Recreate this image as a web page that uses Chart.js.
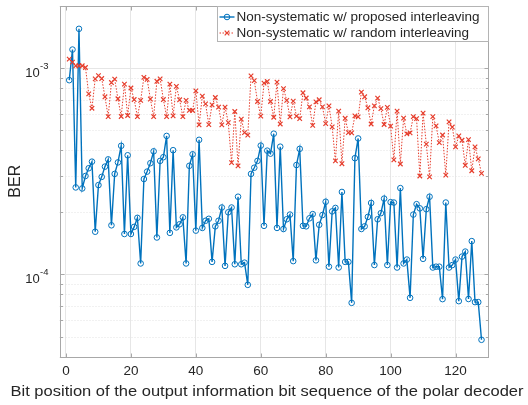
<!DOCTYPE html>
<html>
<head>
<meta charset="utf-8">
<script src="https://cdn.jsdelivr.net/npm/chart.js@4.4.1/dist/chart.umd.min.js"></script>
<style>
html,body{margin:0;padding:0;background:#ffffff;}
canvas{display:block;}
</style>
</head>
<body>
<canvas id="chart" width="528" height="405"></canvas>
<script>
// ---------------- data ----------------
const bitPosition = [1,2,3,4,5,6,7,8,9,10,11,12,13,14,15,16,17,18,19,20,21,22,23,24,25,26,27,28,29,30,31,32,
  33,34,35,36,37,38,39,40,41,42,43,44,45,46,47,48,49,50,51,52,53,54,55,56,57,58,59,60,61,62,63,64,
  65,66,67,68,69,70,71,72,73,74,75,76,77,78,79,80,81,82,83,84,85,86,87,88,89,90,91,92,93,94,95,96,
  97,98,99,100,101,102,103,104,105,106,107,108,109,110,111,112,113,114,115,116,117,118,119,120,121,122,123,124,125,126,127,128];

const berProposed = [
  8.74e-4,1.23e-3,2.64e-4,1.55e-3,2.61e-4,3.00e-4,3.27e-4,3.52e-4,1.61e-4,2.71e-4,
  2.97e-4,3.33e-4,3.61e-4,1.73e-4,3.07e-4,3.49e-4,4.20e-4,1.57e-4,3.78e-4,1.57e-4,
  1.70e-4,1.88e-4,1.13e-4,2.90e-4,3.15e-4,3.46e-4,3.95e-4,1.51e-4,3.55e-4,3.70e-4,
  4.69e-4,1.59e-4,4.00e-4,1.69e-4,1.75e-4,1.89e-4,1.13e-4,3.36e-4,3.82e-4,1.63e-4,
  4.49e-4,1.68e-4,1.82e-4,1.86e-4,1.15e-4,1.71e-4,1.82e-4,2.11e-4,1.10e-4,2.00e-4,
  2.11e-4,1.12e-4,2.38e-4,1.12e-4,1.14e-4,8.90e-5,3.07e-4,3.29e-4,3.55e-4,4.21e-4,
  1.72e-4,3.98e-4,3.85e-4,4.81e-4,1.68e-4,4.16e-4,1.66e-4,1.85e-4,1.95e-4,1.16e-4,
  3.39e-4,4.06e-4,1.72e-4,1.71e-4,1.87e-4,1.96e-4,1.17e-4,1.74e-4,1.94e-4,2.25e-4,
  1.09e-4,2.02e-4,2.10e-4,1.08e-4,2.51e-4,1.15e-4,1.15e-4,7.28e-5,3.66e-4,4.56e-4,
  1.66e-4,1.71e-4,1.90e-4,2.22e-4,1.11e-4,1.85e-4,1.98e-4,2.33e-4,1.11e-4,2.24e-4,
  2.23e-4,1.08e-4,2.62e-4,1.13e-4,1.18e-4,7.70e-5,1.95e-4,2.19e-4,2.09e-4,1.19e-4,
  2.07e-4,2.38e-4,1.08e-4,1.09e-4,1.09e-4,7.59e-5,2.23e-4,1.08e-4,1.11e-4,1.18e-4,
  7.42e-5,1.22e-4,1.29e-4,7.60e-5,1.45e-4,7.34e-5,7.34e-5,4.82e-5];

const berRandom = [
  1.106e-3,1.069e-3,1.026e-3,1.026e-3,1.026e-3,1.007e-3,7.50e-4,6.39e-4,8.87e-4,9.19e-4,
  8.90e-4,7.26e-4,5.82e-4,8.51e-4,8.84e-4,7.10e-4,5.83e-4,8.36e-4,5.89e-4,8.01e-4,
  7.04e-4,5.82e-4,6.98e-4,9.02e-4,8.82e-4,7.08e-4,5.82e-4,8.63e-4,8.87e-4,7.04e-4,
  5.82e-4,8.36e-4,5.87e-4,8.16e-4,7.02e-4,5.82e-4,6.98e-4,6.24e-4,6.23e-4,7.76e-4,
  5.31e-4,7.31e-4,6.71e-4,5.32e-4,6.63e-4,7.20e-4,6.47e-4,5.31e-4,6.47e-4,5.44e-4,
  3.48e-4,6.16e-4,3.36e-4,5.66e-4,4.87e-4,4.73e-4,9.17e-4,8.70e-4,6.89e-4,5.85e-4,
  8.46e-4,8.61e-4,6.89e-4,5.78e-4,8.55e-4,5.36e-4,7.95e-4,6.98e-4,5.80e-4,6.92e-4,
  5.85e-4,5.69e-4,7.59e-4,7.16e-4,6.49e-4,5.28e-4,6.86e-4,7.02e-4,6.49e-4,5.38e-4,
  6.56e-4,5.19e-4,3.55e-4,6.19e-4,3.44e-4,5.71e-4,4.87e-4,4.85e-4,5.87e-4,5.80e-4,
  7.65e-4,7.26e-4,6.42e-4,5.36e-4,6.56e-4,7.15e-4,6.36e-4,5.33e-4,6.45e-4,5.23e-4,
  3.59e-4,6.19e-4,3.43e-4,5.72e-4,4.80e-4,4.85e-4,5.82e-4,5.69e-4,3.00e-4,6.05e-4,
  4.28e-4,2.97e-4,5.82e-4,5.25e-4,4.35e-4,4.74e-4,3.03e-4,5.49e-4,5.18e-4,4.15e-4,
  4.69e-4,4.47e-4,3.38e-4,4.50e-4,3.18e-4,4.15e-4,3.63e-4,3.09e-4];

const xTickValues = [0,20,40,60,80,100,120];
const yMajorTickValues = [1e-4, 1e-3];
const yMinorTickValues = [4e-5,5e-5,6e-5,7e-5,8e-5,9e-5,2e-4,3e-4,4e-4,5e-4,6e-4,7e-4,8e-4,9e-4,2e-3];
const seriesNames = ['Non-systematic w/ proposed interleaving','Non-systematic w/ random interleaving'];
const xAxisTitle = 'Bit position of the output information bit sequence of the polar decoder';
const yAxisTitle = 'BER';

// ---------------- style / layout ----------------
const FONT = "'Liberation Sans', Arial, Helvetica, sans-serif";
const TXT = '#262626';
const GRID = '#e6e6e6';
const MINOR_GRID = '#e2e2e2';
const AXIS = '#a8a8a8';
const BLUE = 'rgb(0,114,189)';
const RED = 'rgb(230,62,45)';
const AREA = {left: 59.5, right: 488, top: 6, bottom: 356.5};
const W = 528, H = 405;
const XTITLE = {cx: 267, baseline: 395.5, width: 513, size: 15};

function drawMarker(ctx, kind, x, y, color) {
  ctx.save();
  ctx.strokeStyle = color;
  ctx.setLineDash([]);
  if (kind === 'circle') {
    ctx.lineWidth = 1;
    ctx.beginPath(); ctx.arc(x, y, 2.8, 0, Math.PI * 2); ctx.stroke();
  } else {
    ctx.lineWidth = 1.2;
    const r = 2.3;
    ctx.beginPath();
    ctx.moveTo(x - r, y - r); ctx.lineTo(x + r, y + r);
    ctx.moveTo(x + r, y - r); ctx.lineTo(x - r, y + r);
    ctx.stroke();
  }
  ctx.restore();
}

const decor = {
  id: 'decor',
  beforeDatasetsDraw(chart) {
    const {ctx, chartArea: a, scales: {y}} = chart;
    ctx.save();
    ctx.strokeStyle = MINOR_GRID;
    ctx.lineWidth = 1;
    ctx.setLineDash([1, 2]);
    for (const v of yMinorTickValues) {
      const py = Math.round(y.getPixelForValue(v)) + 0.5;
      ctx.beginPath(); ctx.moveTo(a.left, py); ctx.lineTo(a.right, py); ctx.stroke();
    }
    ctx.restore();
  },
  afterDatasetsDraw(chart) {
    const {ctx, chartArea: a, scales: {x, y}} = chart;
    ctx.save();
    const L = Math.round(a.left) + 0.5, R = Math.round(a.right) + 0.5;
    const T = Math.round(a.top) + 0.5, B = Math.round(a.bottom) + 0.5;
    ctx.strokeStyle = AXIS;
    ctx.lineWidth = 1;
    ctx.strokeRect(L, T, R - L, B - T);
    ctx.beginPath();
    for (const v of xTickValues) {
      const px = Math.round(x.getPixelForValue(v)) + 0.5;
      ctx.moveTo(px, B); ctx.lineTo(px, B - 4);
      ctx.moveTo(px, T); ctx.lineTo(px, T + 4);
    }
    for (const v of yMajorTickValues) {
      const py = Math.round(y.getPixelForValue(v)) + 0.5;
      ctx.moveTo(L, py); ctx.lineTo(L + 4, py);
      ctx.moveTo(R, py); ctx.lineTo(R - 4, py);
    }
    for (const v of yMinorTickValues) {
      const py = Math.round(y.getPixelForValue(v)) + 0.5;
      ctx.moveTo(L, py); ctx.lineTo(L + 2.5, py);
      ctx.moveTo(R, py); ctx.lineTo(R - 2.5, py);
    }
    ctx.stroke();

    // y tick labels 10^k
    ctx.fillStyle = TXT;
    ctx.textBaseline = 'alphabetic';
    for (const v of yMajorTickValues) {
      const py = y.getPixelForValue(v);
      const expText = String(Math.round(Math.log10(v)));
      ctx.font = `9.5px ${FONT}`;
      ctx.textAlign = 'left';
      const ew = ctx.measureText(expText).width;
      const xe = a.left - 11 - ew;
      ctx.fillText(expText, xe, py + 1);
      ctx.font = `13px ${FONT}`;
      ctx.textAlign = 'right';
      ctx.fillText('10', xe - 0.3, py + 9);
    }

    // x axis title (wide lettering as in the reference)
    ctx.save();
    ctx.font = `${XTITLE.size}px ${FONT}`;
    const tW = ctx.measureText(xAxisTitle).width;
    ctx.translate(XTITLE.cx, XTITLE.baseline);
    ctx.scale(XTITLE.width / tW, 1);
    ctx.textAlign = 'center';
    ctx.textBaseline = 'alphabetic';
    ctx.fillStyle = TXT;
    ctx.fillText(xAxisTitle, 0, 0);
    ctx.restore();

    // legend
    ctx.font = `13.5px ${FONT}`;
    const tw = Math.max(...seriesNames.map(s => ctx.measureText(s).width));
    const lw = 19 + tw + 9;
    const lh = 35;
    const lx = Math.round(a.right - lw) + 0.5, ly = T;
    ctx.fillStyle = '#ffffff';
    ctx.fillRect(lx, ly, lw, lh);
    ctx.strokeStyle = '#b4b4b4';
    ctx.lineWidth = 1;
    ctx.strokeRect(lx, ly, Math.round(a.right) + 0.5 - lx, lh);
    const rows = [ly + 10.5, ly + 26.5];
    chart.data.datasets.forEach((ds, i) => {
      const cy = rows[i];
      ctx.save();
      ctx.strokeStyle = ds.borderColor;
      ctx.lineWidth = ds.borderWidth;
      ctx.setLineDash(ds.borderDash || []);
      ctx.beginPath(); ctx.moveTo(lx + 2, cy); ctx.lineTo(lx + 17, cy); ctx.stroke();
      ctx.restore();
      drawMarker(ctx, i === 0 ? 'circle' : 'x', lx + 9.5, cy, ds.borderColor);
      ctx.fillStyle = TXT;
      ctx.textAlign = 'left';
      ctx.textBaseline = 'middle';
      ctx.fillText(ds.label, lx + 19, cy + 0.5);
    });
    ctx.restore();
  }
};

new Chart(document.getElementById('chart').getContext('2d'), {
  type: 'line',
  data: {
    datasets: [
      {
        label: seriesNames[0],
        data: bitPosition.map((p, i) => ({x: p, y: berProposed[i]})),
        borderColor: BLUE,
        borderWidth: 1.4,
        pointStyle: 'circle',
        pointRadius: 2.8,
        pointBorderWidth: 1,
        pointBorderColor: BLUE,
        pointBackgroundColor: 'rgba(0,0,0,0)',
        tension: 0,
        fill: false,
        order: 1
      },
      {
        label: seriesNames[1],
        data: bitPosition.map((p, i) => ({x: p, y: berRandom[i]})),
        borderColor: RED,
        borderWidth: 1,
        borderDash: [1.5, 1.5],
        pointStyle: 'crossRot',
        pointRadius: 3.2,
        pointBorderWidth: 1.2,
        pointBorderColor: RED,
        tension: 0,
        fill: false,
        order: 0
      }
    ]
  },
  options: {
    responsive: false,
    animation: false,
    events: [],
    layout: {padding: {left: 0, right: W - AREA.right, top: AREA.top, bottom: 0}},
    plugins: {legend: {display: false}, tooltip: {enabled: false}},
    scales: {
      x: {
        type: 'linear',
        min: -2, max: 130,
        afterBuildTicks: s => { s.ticks = xTickValues.map(v => ({value: v})); },
        afterFit: s => { s.height = H - AREA.bottom; },
        grid: {color: GRID, drawTicks: false, lineWidth: 1},
        border: {display: false},
        ticks: {font: {family: FONT, size: 13.5}, color: TXT, padding: 7, maxRotation: 0, autoSkip: false},
        title: {display: false, text: xAxisTitle}
      },
      y: {
        type: 'logarithmic',
        min: 4e-5, max: 2e-3,
        afterBuildTicks: s => { s.ticks = yMajorTickValues.map(v => ({value: v, major: true})); },
        afterFit: s => { s.width = AREA.left; },
        grid: {color: GRID, drawTicks: false, lineWidth: 1},
        border: {display: false},
        ticks: {display: false},
        title: {display: true, text: yAxisTitle, font: {family: FONT, size: 16}, color: TXT, padding: {top: 6, bottom: 0}}
      }
    }
  },
  plugins: [decor]
});
</script>
</body>
</html>
